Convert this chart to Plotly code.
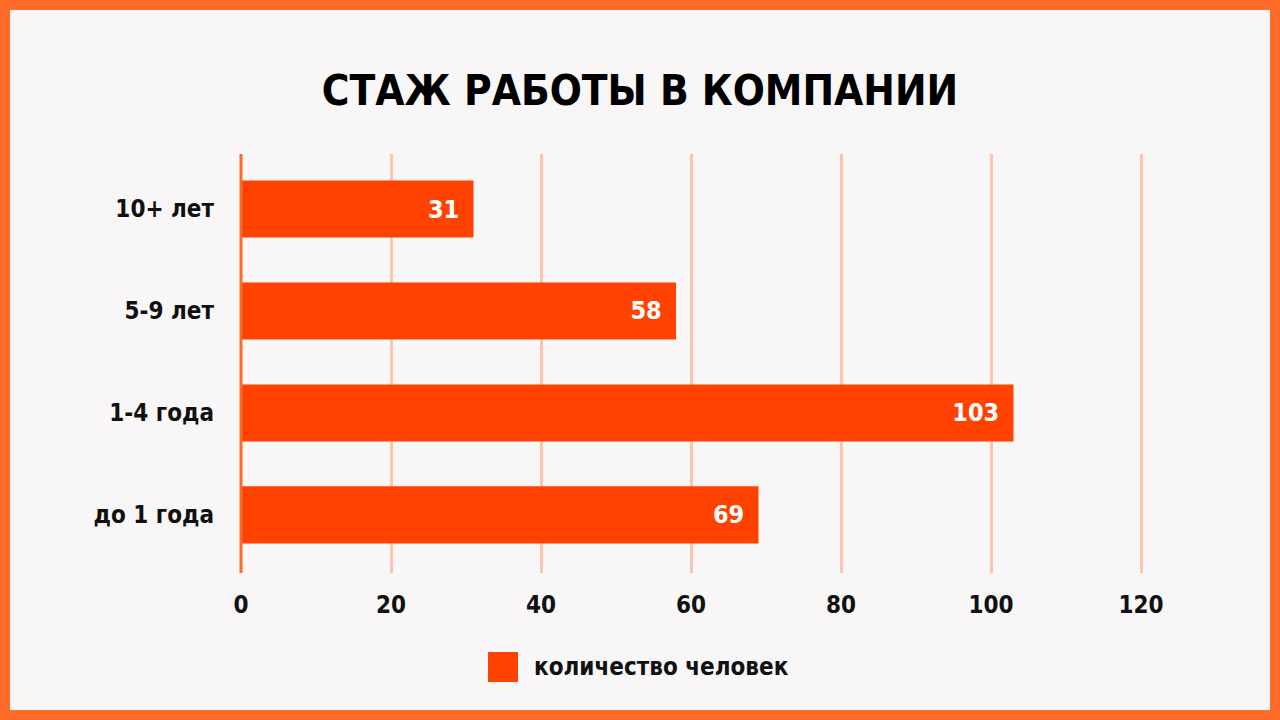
import plotly.graph_objects as go

categories = ["10+ лет", "5-9 лет", "1-4 года", "до 1 года"]
values = [31, 58, 103, 69]
x_ticks = [0, 20, 40, 60, 80, 100, 120]
title_text = "СТАЖ РАБОТЫ В КОМПАНИИ"
series_name = "количество человек"

W, H = 1280, 720
ML, MR, MT, MB = 241, 124, 154, 147
PW, PH = W - ML - MR, H - MT - MB

def px_x(p):
    return (p - ML) / PW

def px_y(p):
    return (H - MB - p) / PH

ORANGE = "#ff6a2b"
BAR = "#ff4200"
BG = "#f8f6f7"
GRID = "#ffc3ad"
FONT = "DejaVu Sans Condensed"

fig = go.Figure()
fig.add_trace(go.Bar(
    y=categories, x=values, orientation="h", name=series_name,
    marker=dict(color=BAR, line=dict(width=0)),
    width=0.56,
    text=values, texttemplate="%{x}\u2002", textposition="inside",
    insidetextanchor="end",
    textfont=dict(color="white", size=25, family=FONT, weight="bold"),
    showlegend=False, hoverinfo="skip",
))

fig.update_layout(
    width=W, height=H,
    margin=dict(l=ML, r=MR, t=MT, b=MB, pad=0),
    paper_bgcolor=ORANGE, plot_bgcolor=BG,
    font=dict(family=FONT, color="#111111"),
    title=dict(text=title_text, x=0.5, xanchor="center", y=1 - 90 / H, yanchor="middle",
               font=dict(size=42, family=FONT, weight="bold", color="#000000")),
    xaxis=dict(range=[0, 122], tickvals=x_ticks, showgrid=True, gridcolor=GRID, gridwidth=3,
               zeroline=False, showline=False, ticks="", ticklabelstandoff=15,
               tickfont=dict(size=24, family=FONT, weight="bold", color="#111111"),
               fixedrange=True),
    yaxis=dict(categoryorder="array", categoryarray=categories[::-1],
               range=[-0.57, 3.54], showgrid=False, zeroline=False, showline=False,
               ticks="", ticklabelstandoff=26,
               tickfont=dict(size=24, family=FONT, weight="bold", color="#111111"),
               fixedrange=True),
    bargap=0.44,
    shapes=[
        dict(type="rect", xref="paper", yref="paper", layer="below",
             x0=px_x(10), x1=px_x(W - 10), y0=px_y(H - 10), y1=px_y(10),
             fillcolor=BG, line=dict(width=0)),
        dict(type="line", xref="paper", yref="paper", layer="above",
             x0=0, x1=0, y0=0, y1=1, line=dict(color=ORANGE, width=3)),
        dict(type="rect", xref="paper", yref="paper",
             x0=px_x(488), x1=px_x(518), y0=px_y(682), y1=px_y(652),
             fillcolor=BAR, line=dict(width=0)),
    ],
    annotations=[
        dict(text=series_name, xref="paper", yref="paper", x=px_x(532), y=px_y(667),
             xanchor="left", yanchor="middle", showarrow=False,
             font=dict(size=24, family=FONT, weight="bold", color="#111111")),
    ],
)

fig.write_html("out.html", config={"displayModeBar": False},
               post_script="document.body.style.margin='0';document.body.style.overflow='hidden';")
